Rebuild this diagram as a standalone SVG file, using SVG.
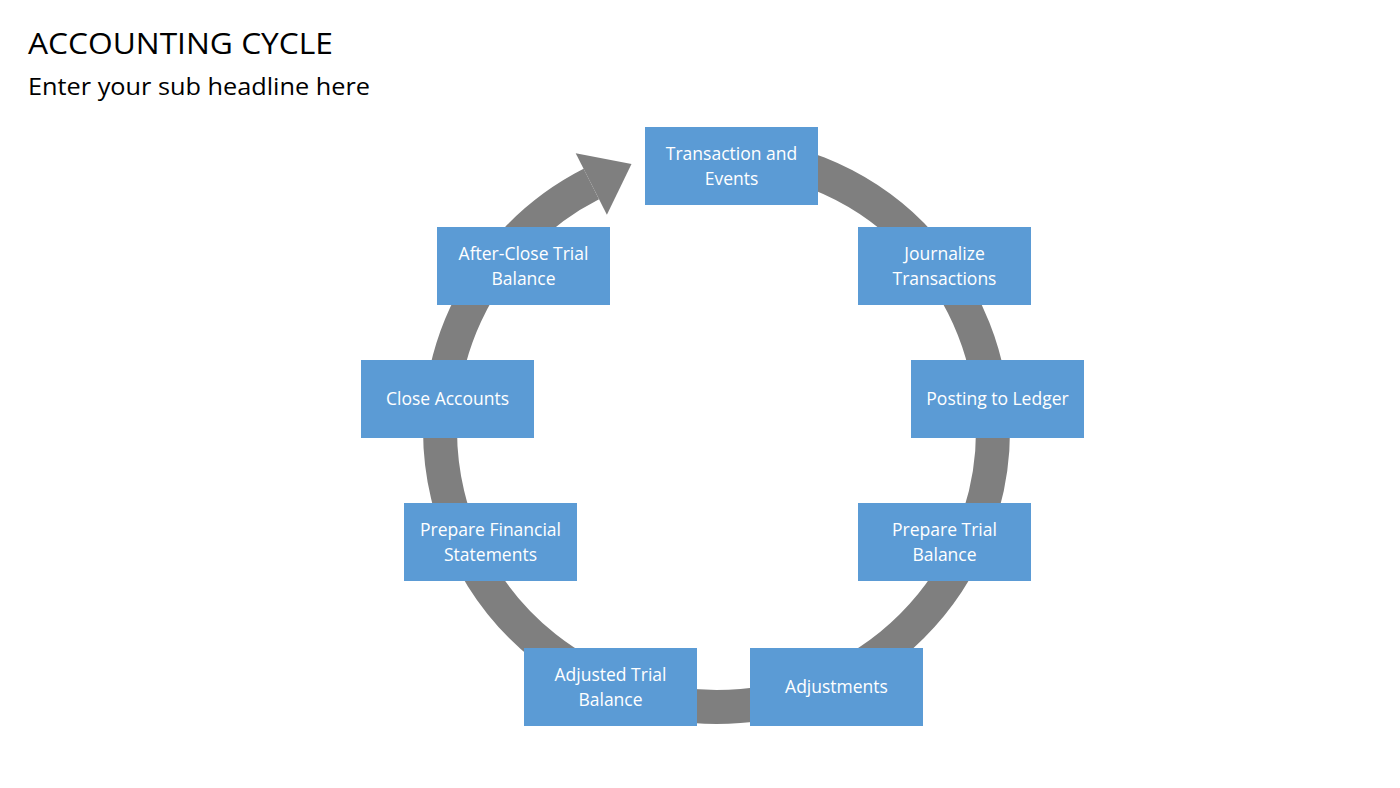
<svg xmlns="http://www.w3.org/2000/svg" width="1400" height="788" viewBox="0 0 1400 788">
<style>
.box{fill:#5B9BD5;}
.lbl{font-family:"Open Sans","Liberation Sans",sans-serif;font-size:17.5px;fill:#FFFFFF;text-anchor:middle;}
.title{font-family:"Open Sans","Liberation Sans",sans-serif;fill:#000000;}
</style>
<rect width="1400" height="788" fill="#FFFFFF"/>
<text class="title" x="28" y="54" font-size="29" textLength="305" lengthAdjust="spacingAndGlyphs">ACCOUNTING CYCLE</text>
<text class="title" x="28" y="95" font-size="23" textLength="342" lengthAdjust="spacingAndGlyphs">Enter your sub headline here</text>
<g id="connectors">
<path d="M 716.5 154 A 276.5 276.5 0 0 1 993 430.5 A 276.5 276.5 0 0 1 716.5 707 A 276.5 276.5 0 0 1 591.3 184" fill="none" stroke="#7F7F7F" stroke-width="34"/>
<polygon points="575.7,153.2 631.5,164.1 606.9,214.8" fill="#7F7F7F"/>
</g>
<g id="n1"><rect class="box" x="645" y="127" width="173" height="78"/><text class="lbl" x="731.5" y="160">Transaction and</text><text class="lbl" x="731.5" y="185">Events</text></g>
<g id="n2"><rect class="box" x="858" y="227" width="173" height="78"/><text class="lbl" x="944.5" y="260">Journalize</text><text class="lbl" x="944.5" y="285">Transactions</text></g>
<g id="n3"><rect class="box" x="911" y="360" width="173" height="78"/><text class="lbl" x="997.5" y="405">Posting to Ledger</text></g>
<g id="n4"><rect class="box" x="858" y="503" width="173" height="78"/><text class="lbl" x="944.5" y="536">Prepare Trial</text><text class="lbl" x="944.5" y="561">Balance</text></g>
<g id="n5"><rect class="box" x="750" y="648" width="173" height="78"/><text class="lbl" x="836.5" y="693">Adjustments</text></g>
<g id="n6"><rect class="box" x="524" y="648" width="173" height="78"/><text class="lbl" x="610.5" y="681">Adjusted Trial</text><text class="lbl" x="610.5" y="706">Balance</text></g>
<g id="n7"><rect class="box" x="404" y="503" width="173" height="78"/><text class="lbl" x="490.5" y="536">Prepare Financial</text><text class="lbl" x="490.5" y="561">Statements</text></g>
<g id="n8"><rect class="box" x="361" y="360" width="173" height="78"/><text class="lbl" x="447.5" y="405">Close Accounts</text></g>
<g id="n9"><rect class="box" x="437" y="227" width="173" height="78"/><text class="lbl" x="523.5" y="260">After-Close Trial</text><text class="lbl" x="523.5" y="285">Balance</text></g>
</svg>
